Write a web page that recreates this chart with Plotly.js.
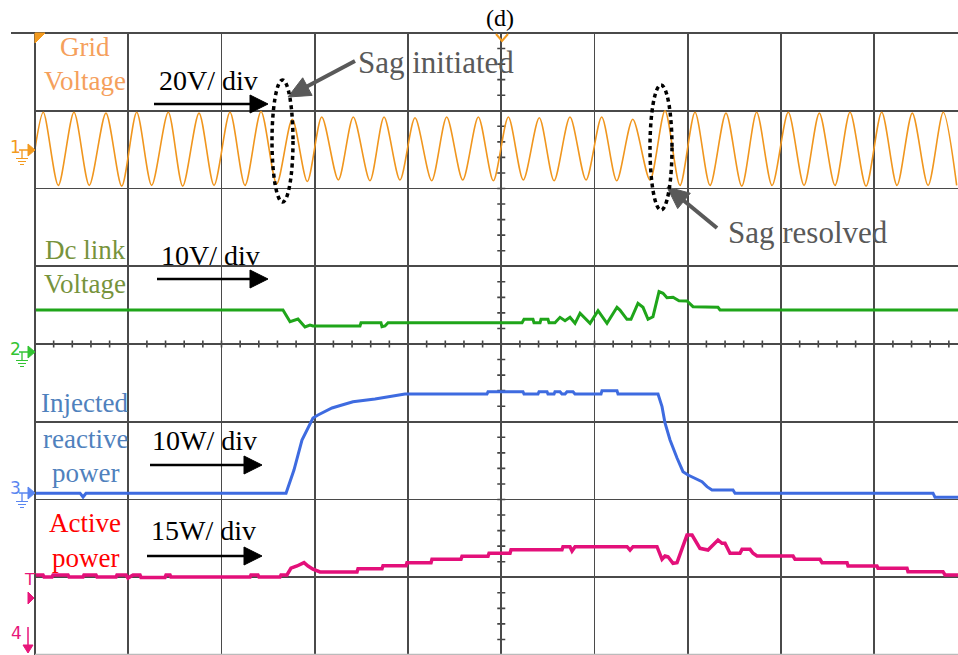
<!DOCTYPE html>
<html><head><meta charset="utf-8">
<script src="https://cdn.plot.ly/plotly-3.0.1.min.js"></script>
<style>html,body{margin:0;padding:0;background:#fff}#chart{width:958px;height:655px}</style>
</head><body><div id="chart"></div>
<script>
// All values in oscilloscope divisions (time: 0..9.9 div, value: -4..4 div)
const gridT = [0,0.089,0.250,0.418,0.582,0.761,0.930,1.091,1.251,1.429,1.584,1.759,1.920,2.091,2.252,2.424,2.592,2.759,2.920,3.075,3.253,3.413,3.592,3.743,3.914,4.075,4.254,4.415,4.587,4.754,4.915,5.076,5.236,5.408,5.566,5.737,5.909,6.077,6.238,6.410,6.595,6.756,6.917,7.078,7.239,7.410,7.579,7.739,7.904,8.078,8.247,8.411,8.579,8.740,8.912,9.080,9.244,9.408,9.577,9.740,9.884];
const gridV = [2.51,2.98,2.04,2.98,2.04,2.97,2.03,2.98,2.04,2.98,2.03,2.97,2.04,2.98,2.04,2.99,2.06,2.89,2.09,2.92,2.11,2.92,2.10,2.92,2.11,2.91,2.10,2.92,2.11,2.92,2.10,2.92,2.11,2.91,2.10,2.92,2.11,2.92,2.10,2.89,2.11,3.00,2.04,2.98,2.04,2.97,2.03,2.98,2.04,2.98,2.04,2.97,2.04,2.98,2.03,2.98,2.04,2.97,2.04,2.98,2.04];

const dcT = [0,2.659,2.735,2.820,2.895,2.949,2.981,3.485,3.496,3.710,3.721,3.753,3.786,5.223,5.244,5.340,5.351,5.416,5.426,5.501,5.512,5.576,5.630,5.684,5.737,5.791,5.845,5.877,5.952,6.038,6.134,6.241,6.273,6.348,6.391,6.466,6.520,6.574,6.627,6.692,6.735,6.777,6.842,6.906,6.992,7.056,7.324,7.346,9.898];
const dcV = [0.437,0.437,0.287,0.322,0.219,0.244,0.232,0.232,0.274,0.274,0.223,0.232,0.274,0.274,0.318,0.318,0.274,0.274,0.318,0.318,0.274,0.274,0.343,0.300,0.343,0.266,0.395,0.356,0.266,0.428,0.266,0.472,0.437,0.318,0.318,0.523,0.472,0.318,0.351,0.673,0.652,0.596,0.601,0.557,0.553,0.480,0.472,0.437,0.437];

const qT = [0,0.483,0.515,0.547,2.692,2.777,2.863,2.928,2.981,3.035,3.110,3.185,3.292,3.410,3.646,3.968,4.847,4.858,5.233,5.244,5.394,5.405,5.491,5.501,5.566,5.576,5.630,5.651,5.684,5.705,5.769,5.791,6.070,6.080,6.241,6.252,6.681,6.724,6.756,6.810,6.885,6.949,7.003,7.078,7.153,7.206,7.260,7.485,7.507,9.630,9.651,9.898];
const qV = [-1.919,-1.919,-1.968,-1.919,-1.919,-1.621,-1.235,-1.068,-0.952,-0.913,-0.871,-0.823,-0.785,-0.742,-0.708,-0.643,-0.643,-0.613,-0.613,-0.643,-0.643,-0.613,-0.613,-0.643,-0.643,-0.613,-0.613,-0.643,-0.643,-0.613,-0.613,-0.643,-0.643,-0.600,-0.600,-0.643,-0.643,-0.806,-1.016,-1.235,-1.466,-1.642,-1.685,-1.727,-1.771,-1.835,-1.878,-1.878,-1.919,-1.919,-1.970,-1.970];

const pT = [0,0.086,0.097,0.182,0.193,0.354,0.365,0.515,0.525,0.654,0.665,0.869,0.879,0.976,0.997,1.051,1.126,1.137,1.394,1.405,1.448,1.458,2.306,2.316,2.391,2.402,2.627,2.638,2.702,2.745,2.810,2.885,2.928,2.981,3.056,3.453,3.464,3.721,3.732,3.979,3.989,4.247,4.257,4.568,4.579,4.858,4.869,5.094,5.105,5.651,5.662,5.737,5.759,5.791,6.349,6.381,6.413,6.670,6.724,6.756,6.788,6.842,6.885,6.938,6.992,7.046,7.078,7.131,7.217,7.292,7.324,7.367,7.399,7.453,7.560,7.582,7.668,7.700,7.743,8.129,8.150,8.418,8.440,8.708,8.719,9.029,9.040,9.351,9.362,9.737,9.759,9.898];
const pV = [-2.971,-2.971,-2.997,-2.997,-2.971,-2.971,-2.997,-2.997,-2.971,-2.971,-2.997,-2.997,-2.971,-2.971,-3.010,-2.971,-2.971,-3.003,-3.003,-2.971,-2.971,-2.997,-2.997,-2.971,-2.971,-2.997,-2.997,-2.971,-2.971,-2.884,-2.855,-2.812,-2.855,-2.897,-2.932,-2.932,-2.890,-2.890,-2.851,-2.851,-2.812,-2.812,-2.769,-2.769,-2.731,-2.731,-2.692,-2.692,-2.646,-2.646,-2.607,-2.607,-2.662,-2.607,-2.607,-2.650,-2.607,-2.607,-2.769,-2.727,-2.736,-2.821,-2.813,-2.650,-2.457,-2.457,-2.521,-2.628,-2.650,-2.563,-2.521,-2.563,-2.563,-2.692,-2.692,-2.641,-2.641,-2.692,-2.727,-2.727,-2.769,-2.769,-2.812,-2.812,-2.855,-2.855,-2.884,-2.884,-2.928,-2.928,-2.971,-2.971];

const labels = ["Grid","Voltage","Dc link","Voltage","Injected","reactive","power","Active","power"];
const scaleLabels = ["20V/ div","10V/ div","10W/ div","15W/ div"];
const callouts = ["Sag initiated","Sag resolved"];
const panelTitle = "(d)";

// ---- pixel helpers for decorations (plot area: x 35..958, y 33..655)
const X = px => (px - 35) / 923;
const Y = py => (655 - py) / 622;
const P = (pts) => 'M ' + pts.map(p => X(p[0]) + ',' + Y(p[1])).join(' L ') + ' Z';
const Lp = (pts) => 'M ' + pts.map(p => X(p[0]) + ',' + Y(p[1])).join(' L ');

const traces = [
  {x: gridT, y: gridV, mode: 'lines', line: {color: '#F0961E', width: 1.6, shape: 'spline', smoothing: 0.8}, hoverinfo: 'skip'},
  {x: dcT, y: dcV, mode: 'lines', line: {color: '#1FA51A', width: 3}, hoverinfo: 'skip'},
  {x: qT, y: qV, mode: 'lines', line: {color: '#3E6BE0', width: 3}, hoverinfo: 'skip'},
  {x: pT, y: pV, mode: 'lines', line: {color: '#E3107A', width: 3.5}, hoverinfo: 'skip'}
];

const shapes = [];
// center-line ticks
let tk = '';
for (let k = 0; k <= 40; k++) { const y = -4 + 0.2 * k; tk += `M ${5 - 0.043},${y} L ${5 + 0.043},${y} `; }
for (let k = 0; k <= 49; k++) { const x = 0.2 * k; tk += `M ${x},-0.046 L ${x},0.046 `; }
shapes.push({type: 'path', xref: 'x', yref: 'y', path: tk, line: {color: '#444', width: 1.6}, layer: 'below'});
// borders
shapes.push({type: 'line', xref: 'paper', yref: 'paper', x0: X(11), x1: 1, y0: 1, y1: 1, line: {color: '#4a4a4a', width: 1.8}});
shapes.push({type: 'line', xref: 'paper', yref: 'paper', x0: 0, x1: 0, y0: 0, y1: 1, line: {color: '#4a4a4a', width: 2}});
shapes.push({type: 'line', xref: 'paper', yref: 'paper', x0: 0, x1: 1, y0: Y(654.5), y1: Y(654.5), line: {color: '#bbbbbb', width: 1.5}});

// black scale arrows
const arr = [[154,104,250,268],[157,279,250,268],[150,465,244,262],[147,556,244,262]];
arr.forEach(a => {
  const [x0, y, hb, tip] = a;
  shapes.push({type: 'line', xref: 'paper', yref: 'paper', x0: X(x0), x1: X(hb + 2), y0: Y(y), y1: Y(y), line: {color: '#000', width: 2.6}});
  shapes.push({type: 'path', xref: 'paper', yref: 'paper', path: P([[hb, y - 9], [tip, y], [hb, y + 9]]), fillcolor: '#000', line: {color: '#000', width: 1}});
});
// grey callout arrows
shapes.push({type: 'line', xref: 'paper', yref: 'paper', x0: X(355), y0: Y(61), x1: X(306), y1: Y(87), line: {color: '#595959', width: 4}});
shapes.push({type: 'path', xref: 'paper', yref: 'paper', path: P([[288, 97], [302.7, 77.8], [312.1, 95.4]]), fillcolor: '#595959', line: {color: '#595959', width: 1}});
shapes.push({type: 'line', xref: 'paper', yref: 'paper', x0: X(717), y0: Y(228), x1: X(683), y1: Y(200), line: {color: '#595959', width: 4}});
shapes.push({type: 'path', xref: 'paper', yref: 'paper', path: P([[667, 187], [690.3, 193.2], [677.7, 208.6]]), fillcolor: '#595959', line: {color: '#595959', width: 1}});
// dotted ellipses
shapes.push({type: 'circle', xref: 'paper', yref: 'paper', x0: X(272), x1: X(293), y0: Y(202), y1: Y(80), line: {color: '#000', width: 3.5, dash: '4px,3.5px'}});
shapes.push({type: 'circle', xref: 'paper', yref: 'paper', x0: X(650), x1: X(672), y0: Y(210), y1: Y(85), line: {color: '#000', width: 3.5, dash: '4px,3.5px'}});

// scope markers
shapes.push({type: 'path', xref: 'paper', yref: 'paper', path: P([[35, 33], [45, 33], [35, 43]]), fillcolor: '#F39A1E', line: {color: '#F39A1E', width: 1}});
shapes.push({type: 'path', xref: 'paper', yref: 'paper', path: Lp([[496, 34], [502, 41], [508, 34]]), line: {color: '#F39A1E', width: 2}});
function ground(y0, col) {
  shapes.push({type: 'path', xref: 'paper', yref: 'paper', path: Lp([[19, y0], [28, y0]]) + ' ' + Lp([[22, y0], [22, y0 + 8]]), line: {color: col, width: 1.3}});
  shapes.push({type: 'path', xref: 'paper', yref: 'paper', path: Lp([[16, y0 + 8.5], [28, y0 + 8.5]]) + ' ' + Lp([[18, y0 + 11.5], [26, y0 + 11.5]]) + ' ' + Lp([[20, y0 + 14.5], [24, y0 + 14.5]]), line: {color: col, width: 1.2}});
  shapes.push({type: 'path', xref: 'paper', yref: 'paper', path: P([[28, y0 - 6], [35, y0], [28, y0 + 6]]), fillcolor: col, line: {color: col, width: 1}});
}
ground(150, '#F39A1E');
ground(352, '#33C433');
ground(493, '#5A86F0');
shapes.push({type: 'path', xref: 'paper', yref: 'paper', path: P([[28, 592], [34, 598], [28, 604]]), fillcolor: '#E8157A', line: {color: '#E8157A', width: 1}});
shapes.push({type: 'path', xref: 'paper', yref: 'paper', path: Lp([[28, 627], [28, 646]]), line: {color: '#E8157A', width: 1.5}});
shapes.push({type: 'path', xref: 'paper', yref: 'paper', path: P([[23, 645], [33, 645], [28, 653]]), fillcolor: '#E8157A', line: {color: '#E8157A', width: 1}});

const serif = 'Liberation Serif, Times New Roman, serif';
const ann = [];
function T(text, px, py, size, color, xanchor, family) {
  ann.push({text: text, x: X(px), y: Y(py), xref: 'paper', yref: 'paper', showarrow: false,
    xanchor: xanchor || 'center', yanchor: 'middle', font: {family: family || serif, size: size, color: color}});
}
T(panelTitle, 500, 18, 24, '#000');
T(labels[0], 85, 47, 27, '#F5A05C');
T(labels[1], 85, 81, 27, '#F5A05C');
T(labels[2], 85, 250, 27, '#77933C');
T(labels[3], 85, 284, 27, '#77933C');
T(labels[4], 84, 403, 27, '#4F81BD');
T(labels[5], 85, 439, 27, '#4F81BD');
T(labels[6], 85, 473, 27, '#4F81BD');
T(labels[7], 85, 523, 27, '#FF0000');
T(labels[8], 85, 558, 27, '#FF0000');
T(scaleLabels[0], 208, 80, 28, '#000');
T(scaleLabels[1], 210, 255, 28, '#000');
T(scaleLabels[2], 204, 440, 28, '#000');
T(scaleLabels[3], 203, 530, 28, '#000');
T(callouts[0], 356, 63, 31, '#595959', 'left');
T(callouts[1], 726, 232, 31, '#595959', 'left');
const sans = 'DejaVu Sans, sans-serif';
T('1', 15, 147, 17, '#F39A1E', 'center', sans);
T('2', 15, 349, 17, '#33C433', 'center', sans);
T('3', 15, 488, 17, '#5A86F0', 'center', sans);
T('T', 29, 579, 16, '#E8157A', 'center', sans);
T('4', 16, 633, 17, '#E8157A', 'center', sans);

const layout = {
  width: 958, height: 655,
  margin: {l: 35, r: 0, t: 33, b: 0, pad: 0},
  paper_bgcolor: '#fff', plot_bgcolor: '#fff',
  showlegend: false,
  font: {family: serif},
  xaxis: {range: [0, 9.898], tick0: 0, dtick: 1, showgrid: true, gridcolor: '#4a4a4a', gridwidth: 1.6,
          zeroline: false, showticklabels: false, ticks: '', showline: false, fixedrange: true},
  yaxis: {range: [-4, 4], tick0: 0, dtick: 1, showgrid: true, gridcolor: '#4a4a4a', gridwidth: 1.6,
          zeroline: false, showticklabels: false, ticks: '', showline: false, fixedrange: true},
  shapes: shapes,
  annotations: ann
};
Plotly.newPlot('chart', traces, layout, {staticPlot: true, displayModeBar: false});
</script>
</body></html>
